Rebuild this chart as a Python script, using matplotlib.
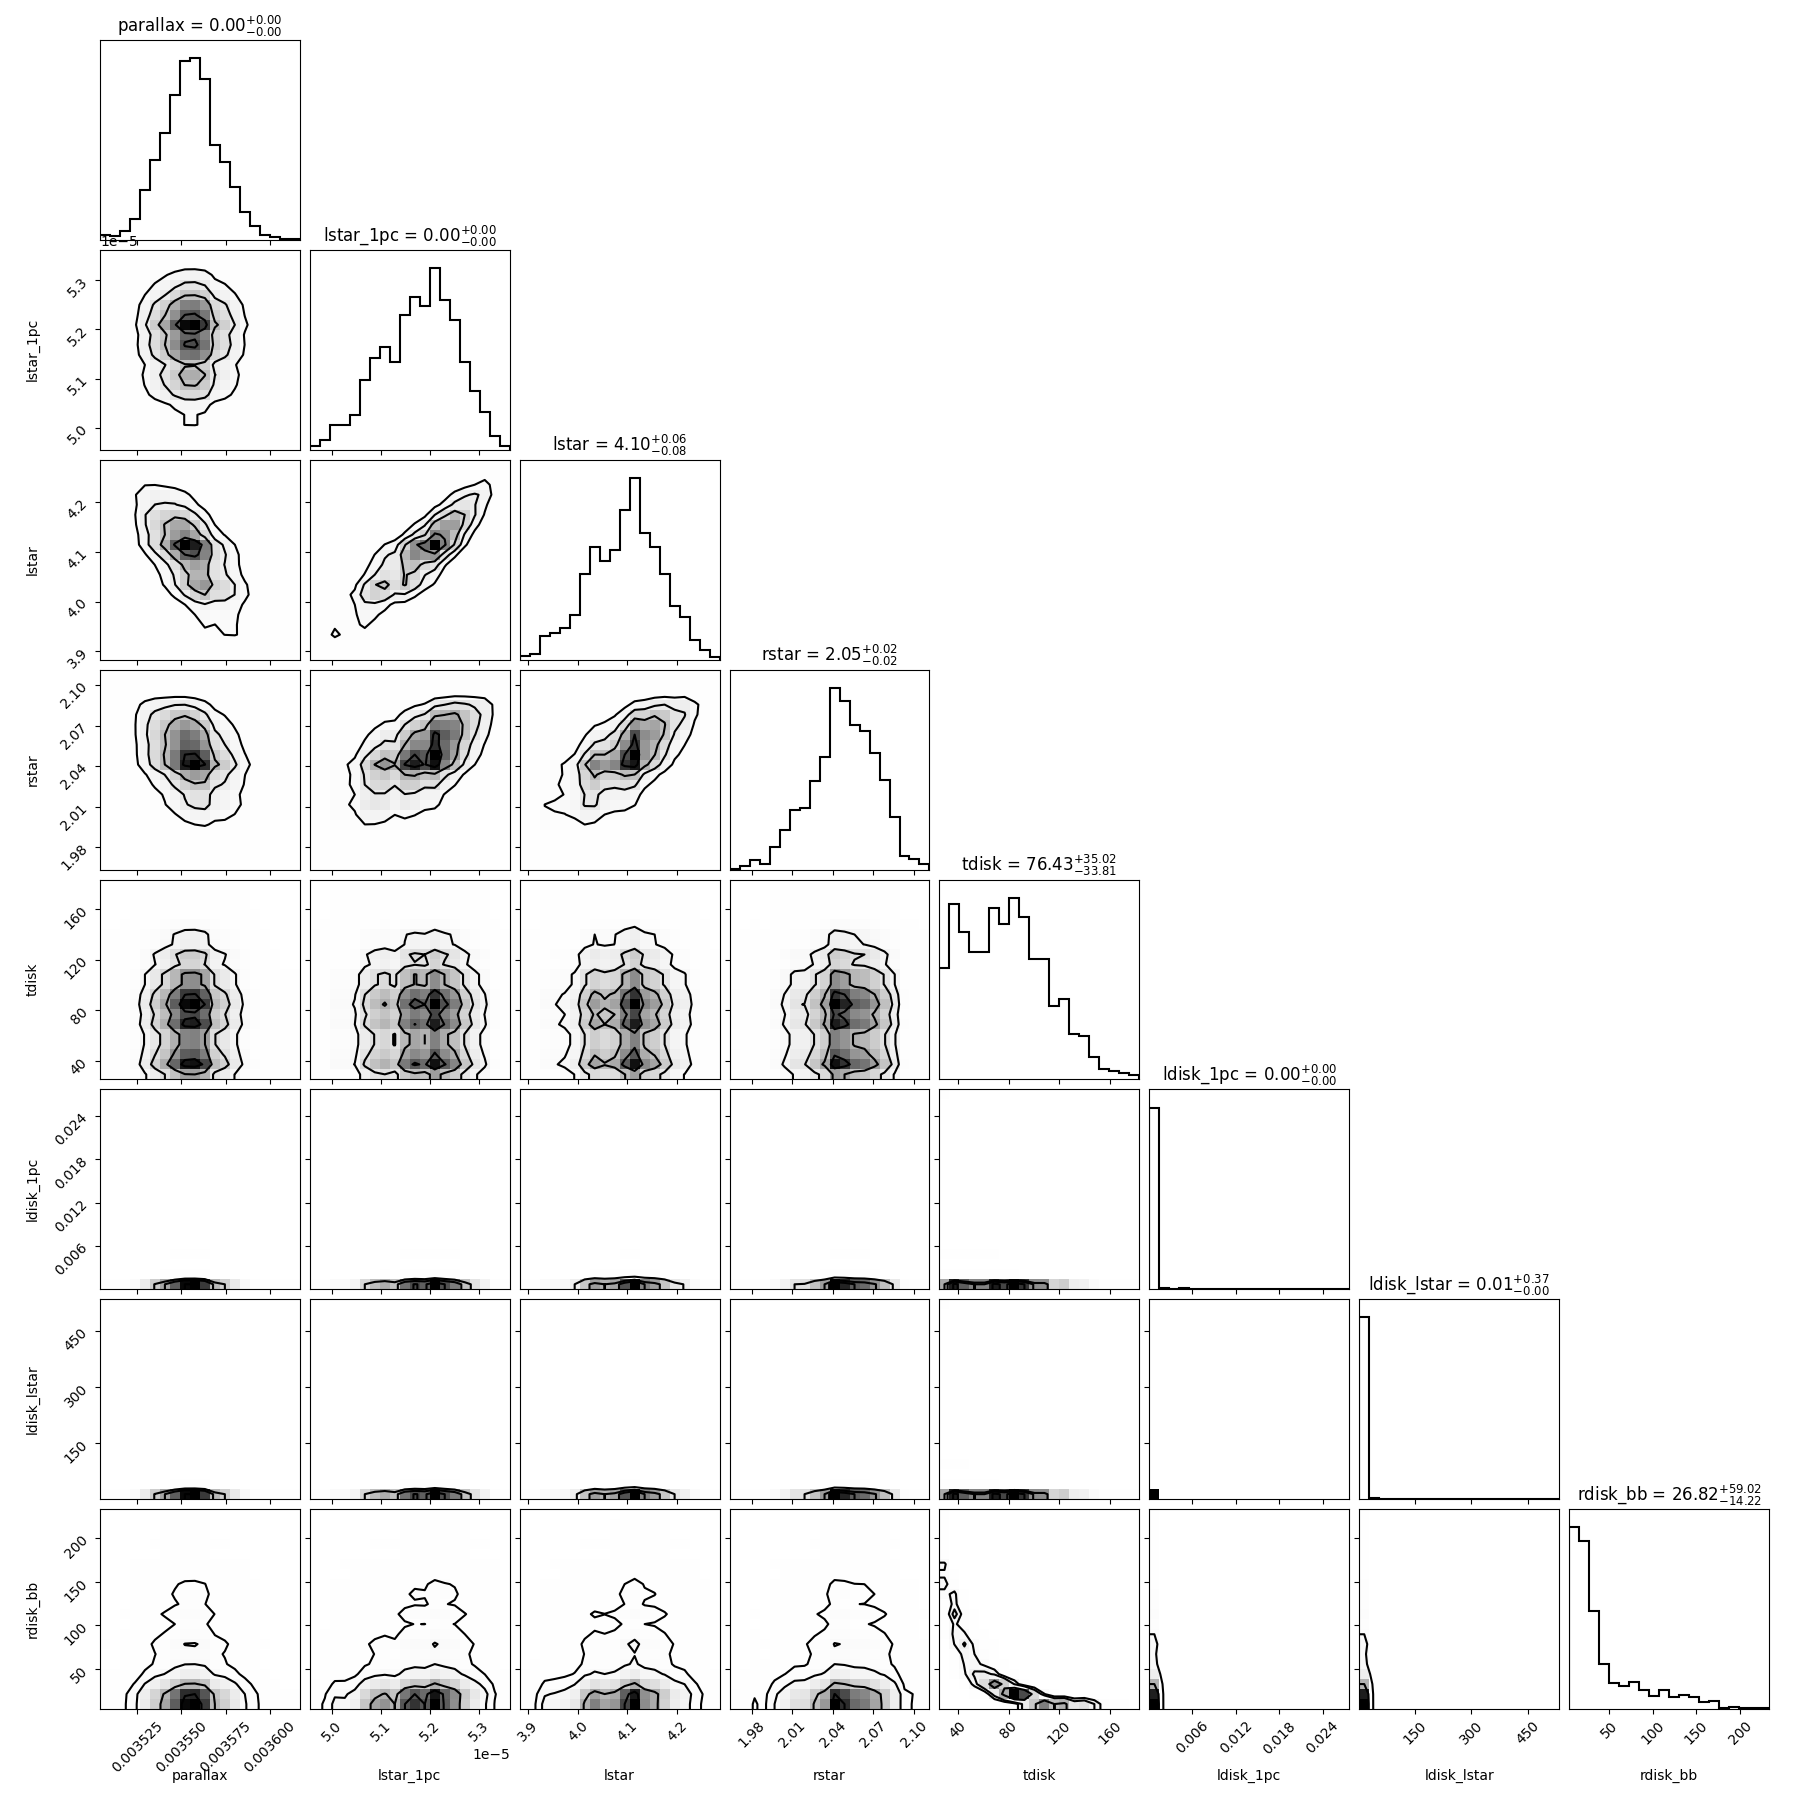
import math
import numpy as np
import matplotlib
matplotlib.use("Agg")
import matplotlib.pyplot as plt
from matplotlib.colors import LinearSegmentedColormap
from matplotlib.ticker import MaxNLocator, ScalarFormatter, NullFormatter

# parameters and summary numbers (median, -err, +err) shown in titles
names = ["parallax", "lstar_1pc", "lstar", "rstar", "tdisk", "ldisk_1pc", "ldisk_lstar", "rdisk_bb"]
q50 = [0.00, 0.00, 4.10, 2.05, 76.43, 0.00, 0.01, 26.82]
q_minus = [0.00, 0.00, 0.08, 0.02, 33.81, 0.00, 0.00, 14.22]
q_plus = [0.00, 0.00, 0.06, 0.02, 35.02, 0.00, 0.37, 59.02]

# sample ranges (min, max)
range_lo = [0.003504, 4.955e-5, 3.883, 1.9635, 25.55, 0.00003, 0.5, 4.2]
range_hi = [0.003617, 5.362e-5, 4.286, 2.1115, 183.1, 0.0277, 534.0, 233.2]

# 20-bin histogram counts (relative heights)
hist_parallax = [15, 13, 28, 63, 150, 240, 321, 435, 537, 546, 482, 285, 234, 159, 85, 41, 15, 8, 4, 4]
hist_lstar_1pc = [10, 28, 75, 75, 105, 211, 276, 308, 265, 406, 458, 431, 546, 451, 390, 265, 176, 114, 41, 10]
hist_lstar = [12, 18, 70, 79, 94, 133, 258, 339, 297, 328, 450, 546, 381, 339, 258, 160, 129, 60, 28, 8]
hist_rstar = [3, 12, 28, 18, 69, 118, 178, 186, 267, 339, 547, 507, 435, 417, 351, 270, 159, 40, 31, 18]
hist_tdisk = [336, 528, 442, 382, 382, 516, 466, 546, 488, 363, 363, 222, 241, 135, 130, 66, 30, 25, 19, 13]
hist_ldisk_1pc = [546, 4, 0, 3, 0, 0, 0, 0, 0, 0, 0, 0, 0, 0, 0, 0, 0, 0, 0, 1]
hist_ldisk_lstar = [546, 3, 0, 2, 0, 0, 0, 0, 0, 0, 0, 0, 0, 0, 0, 0, 0, 0, 0, 1]
hist_rdisk_bb = [546, 504, 294, 136, 78, 69, 81, 57, 39, 58, 36, 42, 36, 21, 24, 4, 7, 4, 4, 4]
hists = [hist_parallax, hist_lstar_1pc, hist_lstar, hist_rstar,
         hist_tdisk, hist_ldisk_1pc, hist_ldisk_lstar, hist_rdisk_bb]

# rank correlations between parameters, estimated from the 2d panels
corr = [
    [1.0, 0.0, -0.6, -0.3, 0.0, 0.0, 0.0, 0.0],
    [0.0, 1.0, 0.85, 0.55, 0.0, 0.0, 0.0, 0.1],
    [-0.6, 0.85, 1.0, 0.65, 0.0, 0.0, 0.0, 0.1],
    [-0.3, 0.55, 0.65, 1.0, 0.0, 0.0, 0.0, 0.05],
    [0.0, 0.0, 0.0, 0.0, 1.0, -0.3, -0.3, -0.97],
    [0.0, 0.0, 0.0, 0.0, -0.3, 1.0, 0.99, 0.4],
    [0.0, 0.0, 0.0, 0.0, -0.3, 0.99, 1.0, 0.4],
    [0.0, 0.1, 0.1, 0.05, -0.97, 0.4, 0.4, 1.0],
]

K = len(names)
nbins = 20

zz = np.linspace(-6, 6, 4001)
cdf_tab = 0.5 * (1 + np.array([math.erf(v / math.sqrt(2)) for v in zz]))


def norm_ppf(u):
    return np.interp(np.clip(u, 1e-9, 1 - 1e-9), cdf_tab, zz)


def hist2d_grid(ci, cj, rho, sub=6):
    # joint bin weights from the two marginals tied by a gaussian copula
    pi = np.repeat(np.asarray(ci, float) / np.sum(ci), sub) / sub
    pj = np.repeat(np.asarray(cj, float) / np.sum(cj), sub) / sub
    a = norm_ppf(np.cumsum(pi) - 0.5 * pi)[:, None]
    b = norm_ppf(np.cumsum(pj) - 0.5 * pj)[None, :]
    r2 = 1 - rho ** 2
    c = np.exp(-(rho ** 2 * (a ** 2 + b ** 2) - 2 * rho * a * b) / (2 * r2)) / np.sqrt(r2)
    H = pi[:, None] * pj[None, :] * c
    H = H.reshape(nbins, sub, nbins, sub).sum(axis=(1, 3))
    return H / H.sum() * 5000


def corner_hist2d(ax, X, Y, H):
    levels = 1.0 - np.exp(-0.5 * np.arange(0.5, 2.1, 0.5) ** 2)
    Hflat = H.flatten()
    Hflat = Hflat[np.argsort(Hflat)[::-1]]
    sm = np.cumsum(Hflat)
    sm /= sm[-1]
    V = np.empty(len(levels))
    for i, v0 in enumerate(levels):
        try:
            V[i] = Hflat[sm <= v0][-1]
        except IndexError:
            V[i] = Hflat[0]
    V.sort()
    m = np.diff(V) == 0
    while np.any(m):
        V[np.where(m)[0][0]] *= 1.0 - 1e-4
        m = np.diff(V) == 0
    V.sort()

    X1 = 0.5 * (X[1:] + X[:-1])
    Y1 = 0.5 * (Y[1:] + Y[:-1])
    H2 = H.min() + np.zeros((H.shape[0] + 4, H.shape[1] + 4))
    H2[2:-2, 2:-2] = H
    H2[2:-2, 1] = H[:, 0]
    H2[2:-2, -2] = H[:, -1]
    H2[1, 2:-2] = H[0]
    H2[-2, 2:-2] = H[-1]
    H2[1, 1] = H[0, 0]
    H2[1, -2] = H[0, -1]
    H2[-2, 1] = H[-1, 0]
    H2[-2, -2] = H[-1, -1]
    X2 = np.concatenate([X1[0] + np.array([-2, -1]) * np.diff(X1[:2]), X1,
                         X1[-1] + np.array([1, 2]) * np.diff(X1[-2:])])
    Y2 = np.concatenate([Y1[0] + np.array([-2, -1]) * np.diff(Y1[:2]), Y1,
                         Y1[-1] + np.array([1, 2]) * np.diff(Y1[-2:])])

    density_cmap = LinearSegmentedColormap.from_list("density_cmap", ["k", (1, 1, 1, 0)])
    ax.pcolormesh(X, Y, H.max() - H.T, cmap=density_cmap, antialiased=False,
                  linewidth=0, edgecolors="none")
    ax.contour(X2, Y2, H2.T, V, colors="k", linewidths=1.5)


# corner-style layout
factor = 2.0
lbdim = 0.5 * factor
trdim = 0.2 * factor
whspace = 0.05
plotdim = factor * K + factor * (K - 1.0) * whspace
dim = lbdim + plotdim + trdim
lb = lbdim / dim
tr = (lbdim + plotdim) / dim

fig, axes = plt.subplots(K, K, figsize=(18.09, 18.09))
fig.subplots_adjust(left=lb, bottom=lb, right=tr, top=tr, wspace=whspace, hspace=whspace)

edges = [np.linspace(range_lo[k], range_hi[k], nbins + 1) for k in range(K)]

for i in range(K):
    ax = axes[i, i]
    e = edges[i]
    ax.hist(0.5 * (e[1:] + e[:-1]), bins=e, weights=hists[i], histtype="step",
            color="k", linewidth=1.5)
    ax.set_ylim(0, 1.1 * max(hists[i]))
    ax.set_xlim(range_lo[i], range_hi[i])
    ax.set_yticks([])
    ax.xaxis.set_major_locator(MaxNLocator(5, prune="lower"))
    title = r"${{{0}}}_{{-{1}}}^{{+{2}}}$".format("%.2f" % q50[i], "%.2f" % q_minus[i], "%.2f" % q_plus[i])
    ax.set_title("{0} = {1}".format(names[i], title), fontsize=12)
    if i < K - 1:
        ax.xaxis.set_major_formatter(NullFormatter())
    else:
        ax.xaxis.set_major_formatter(ScalarFormatter())
        ax.tick_params(axis="x", labelrotation=45)
        ax.set_xlabel(names[i])
        ax.xaxis.set_label_coords(0.5, -0.3)

    for j in range(K):
        if j > i:
            axes[i, j].set_frame_on(False)
            axes[i, j].set_xticks([])
            axes[i, j].set_yticks([])
        elif j < i:
            ax2 = axes[i, j]
            H = hist2d_grid(hists[j], hists[i], corr[i][j])
            corner_hist2d(ax2, edges[j], edges[i], H)
            ax2.set_xlim(range_lo[j], range_hi[j])
            ax2.set_ylim(range_lo[i], range_hi[i])
            ax2.xaxis.set_major_locator(MaxNLocator(5, prune="lower"))
            ax2.yaxis.set_major_locator(MaxNLocator(5, prune="lower"))
            if i < K - 1:
                ax2.xaxis.set_major_formatter(NullFormatter())
            else:
                ax2.xaxis.set_major_formatter(ScalarFormatter())
                ax2.tick_params(axis="x", labelrotation=45)
                ax2.set_xlabel(names[j])
                ax2.xaxis.set_label_coords(0.5, -0.3)
            if j > 0:
                ax2.yaxis.set_major_formatter(NullFormatter())
            else:
                ax2.yaxis.set_major_formatter(ScalarFormatter())
                ax2.tick_params(axis="y", labelrotation=45)
                ax2.set_ylabel(names[i])
                ax2.yaxis.set_label_coords(-0.3, 0.5)

fig.savefig("out.png", dpi=100)
